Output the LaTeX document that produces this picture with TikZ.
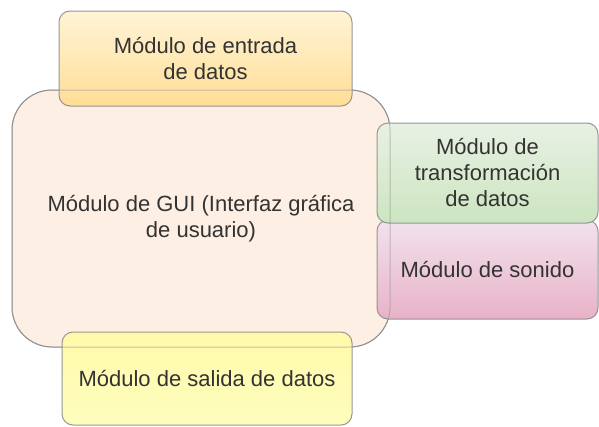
\documentclass[tikz,border=0pt]{standalone}
\usepackage{fontspec}
\setmainfont{Liberation Sans}
\usetikzlibrary{positioning}

\definecolor{guifill}{RGB}{253,239,227}
\definecolor{edgegrey}{RGB}{140,140,140}
\definecolor{txtgrey}{RGB}{51,51,51}
\definecolor{inTop}{RGB}{255,244,214}
\definecolor{inBot}{RGB}{255,222,150}
\definecolor{trTop}{RGB}{232,241,228}
\definecolor{trBot}{RGB}{204,229,192}
\definecolor{snTop}{RGB}{242,226,237}
\definecolor{snBot}{RGB}{232,178,200}
\definecolor{outTop}{RGB}{255,250,170}
\definecolor{outBot}{RGB}{255,253,190}

\tikzset{
  modbox/.style={draw=edgegrey,line width=1pt,rectangle,rounded corners=11pt,
    inner sep=0pt,outer sep=0pt,align=center,text=txtgrey,
    font=\fontsize{22}{26}\selectfont,draw opacity=0.9},
  guibox/.style={modbox,fill=guifill,rounded corners=40pt}
}

\begin{document}
\begin{tikzpicture}[x=1pt,y=-1pt]
\useasboundingbox (0,0) rectangle (599,426);
\node[guibox,minimum width=378pt,minimum height=257pt] (gui) at (201,218.5)
  {M\'odulo de GUI (Interfaz gr\'afica\\de usuario)};
\node[modbox,top color=inTop,bottom color=inBot,minimum width=293pt,minimum height=95pt] (entrada) at (205.5,58.5)
  {M\'odulo de entrada\\de datos};
\node[modbox,top color=outTop,bottom color=outBot,minimum width=290pt,minimum height=93pt] (salida) at (207,378.5)
  {M\'odulo de salida de datos};
\node[modbox,top color=snTop,bottom color=snBot,minimum width=221pt,minimum height=99pt] (sonido) at (487.5,269.5)
  {M\'odulo de sonido};
\node[modbox,top color=trTop,bottom color=trBot,minimum width=221pt,minimum height=100pt] (transf) at (487.5,173)
  {M\'odulo de\\transformaci\'on\\de datos};
% gui border seen through the boxes
\draw[edgegrey,line width=1pt,draw opacity=0.5,rounded corners=40pt] (gui.north west) rectangle (gui.south east);
\end{tikzpicture}
\end{document}
